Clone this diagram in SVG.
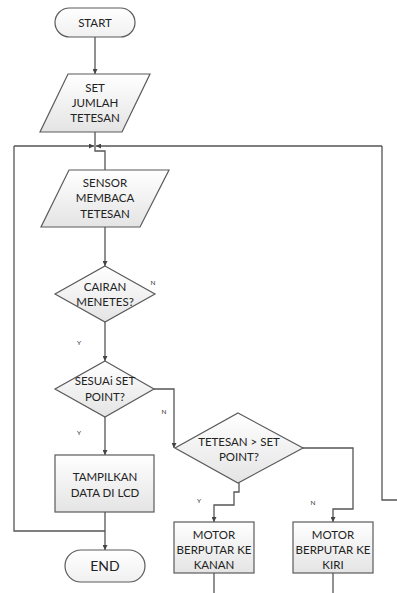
<svg xmlns="http://www.w3.org/2000/svg" width="397" height="593" viewBox="0 0 397 593">
<style>
.shape{stroke:#5a5a5a;stroke-width:1.2;fill:url(#g)}
.term{stroke:#5a5a5a;stroke-width:1.2;fill:url(#gt)}
.t{font-family:Lato,"Open Sans",sans-serif;font-size:11.5px;fill:#222;text-anchor:middle}
.s{font-family:Lato,"Open Sans",sans-serif;font-size:6.5px;fill:#303030;text-anchor:middle}
.c{stroke:#555;stroke-width:1.3;fill:none}
.ca{stroke:#555;stroke-width:1.3;fill:none;marker-end:url(#ah)}
</style>
<defs>
<linearGradient id="g" x1="0" y1="0" x2="0" y2="1"><stop offset="0" stop-color="#ffffff"/><stop offset="1" stop-color="#e4e4e4"/></linearGradient>
<linearGradient id="gt" x1="0" y1="0" x2="0" y2="1"><stop offset="0" stop-color="#ffffff"/><stop offset="1" stop-color="#f0f0f0"/></linearGradient>
<marker id="ah" viewBox="0 0 10 10" refX="10" refY="5" markerWidth="5" markerHeight="5" orient="auto" markerUnits="userSpaceOnUse"><path d="M0,0 L10,5 L0,10 z" fill="#444"/></marker>
</defs>
<rect width="397" height="593" fill="#ffffff"/>
<g id="connectors">
<path class="ca" d="M95,37 V74"/>
<path class="c" d="M95,132 V151 H105 V170"/>
<path class="ca" d="M14,146 H94"/>
<path class="ca" d="M382,146 H96"/>
<path class="ca" d="M105,227 V266"/>
<path class="ca" d="M105,322 V361"/>
<path class="ca" d="M105,417 V455"/>
<path class="ca" d="M154,389 H174 V448"/>
<path class="ca" d="M239,483 V492 H234 V505 H214 V522"/>
<path class="ca" d="M303,448 H353 V509 H333 V522"/>
<path class="ca" d="M105,512 V550"/>
<path class="c" d="M105,531 H14 V146"/>
<path class="c" d="M397,500 H382 V146"/>
<path class="c" d="M214,573 V593"/>
<path class="c" d="M333,573 V593"/>
</g>
<g id="start"><rect class="term" x="55" y="8" width="80" height="29" rx="14.5"/><text class="t" x="95" y="27">START</text></g>
<g id="set"><polygon class="shape" points="68,74 150,74 122,132 40,132"/><text class="t" x="95" y="92">SET</text><text class="t" x="95" y="107">JUMLAH</text><text class="t" x="95" y="122">TETESAN</text></g>
<g id="sensor"><polygon class="shape" points="69,170 169,170 140,227 41,227"/><text class="t" x="105" y="187">SENSOR</text><text class="t" x="105" y="202">MEMBACA</text><text class="t" x="105" y="218">TETESAN</text></g>
<g id="cairan"><polygon class="shape" points="105,266 155,294 105,322 55,294"/><text class="t" x="105" y="291">CAIRAN</text><text class="t" x="105" y="306">MENETES?</text><text class="s" x="153" y="285">N</text><text class="s" x="79" y="345">Y</text></g>
<g id="sesuai"><polygon class="shape" points="105,361 154,389 105,417 55,389"/><text class="t" x="105" y="385">SESUAi SET</text><text class="t" x="105" y="401">POINT?</text><text class="s" x="164" y="414">N</text><text class="s" x="79" y="435">Y</text></g>
<g id="tetesan"><polygon class="shape" points="238,413 303,448 238,483 175,448"/><text class="t" x="239" y="446">TETESAN &gt; SET</text><text class="t" x="239" y="461">POINT?</text><text class="s" x="199" y="503">Y</text><text class="s" x="313" y="505">N</text></g>
<g id="tampilkan"><rect class="shape" x="55" y="455" width="99" height="57"/><text class="t" x="105" y="481">TAMPILKAN</text><text class="t" x="105" y="497">DATA DI LCD</text></g>
<g id="end"><rect class="term" x="65" y="550" width="80" height="32" rx="16"/><text class="t" x="105" y="571" style="font-size:14px">END</text></g>
<g id="kanan"><rect class="shape" x="174" y="522" width="80" height="51"/><text class="t" x="214" y="539">MOTOR</text><text class="t" x="214" y="554">BERPUTAR KE</text><text class="t" x="214" y="569">KANAN</text></g>
<g id="kiri"><rect class="shape" x="293" y="522" width="80" height="51"/><text class="t" x="333" y="539">MOTOR</text><text class="t" x="333" y="554">BERPUTAR KE</text><text class="t" x="333" y="569">KIRI</text></g>
</svg>
